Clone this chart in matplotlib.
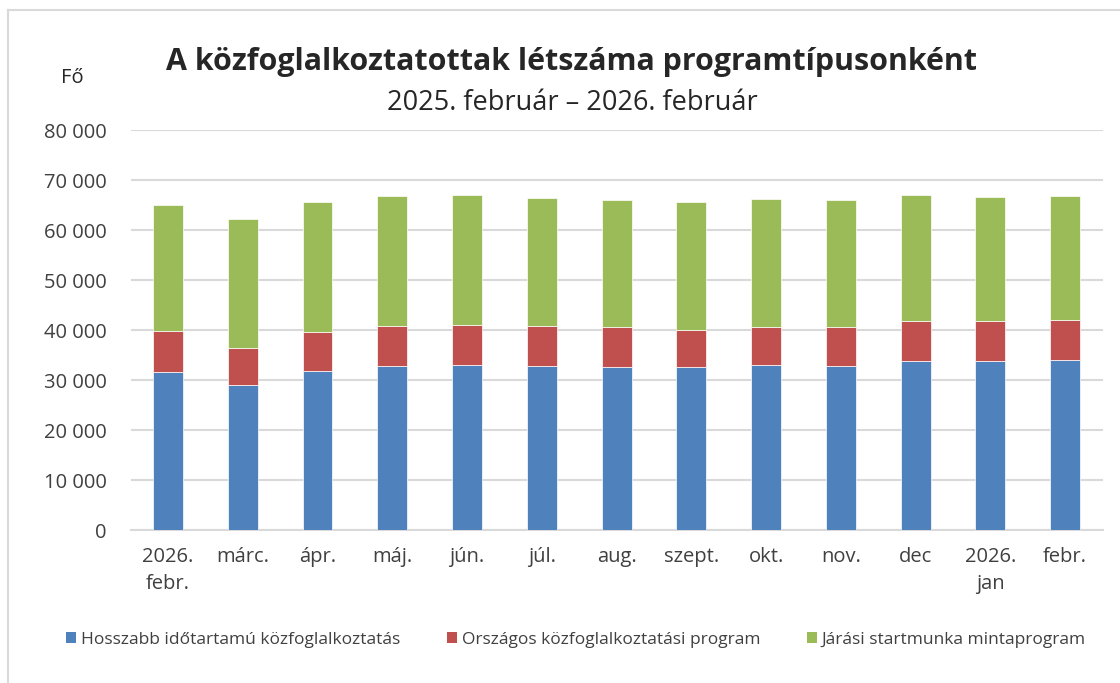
import matplotlib
matplotlib.use("Agg")
import matplotlib.pyplot as plt
from matplotlib.lines import Line2D
from matplotlib.patches import Patch
import numpy as np

categories = ["2026.\nfebr.", "márc.", "ápr.", "máj.", "jún.", "júl.", "aug.",
              "szept.", "okt.", "nov.", "dec", "2026.\njan", "febr."]
hosszabb = [31600, 29000, 31800, 32800, 33000, 32800, 32600, 32600, 33000, 32800, 33800, 33800, 34000]
orszagos = [8200, 7400, 7800, 8000, 8000, 8000, 8000, 7400, 7600, 7800, 8000, 8000, 8000]
jarasi = [25200, 25800, 26000, 26000, 26000, 25600, 25400, 25600, 25600, 25400, 25200, 24800, 24800]
series_names = ["Hosszabb időtartamú közfoglalkoztatás",
                "Országos közfoglalkoztatási program",
                "Járási startmunka mintaprogram"]
yticks = [0, 10000, 20000, 30000, 40000, 50000, 60000, 70000, 80000]
ytick_labels = ["0", "10 000", "20 000", "30 000", "40 000", "50 000", "60 000", "70 000", "80 000"]

colors = ["#4f81bd", "#c0504d", "#9bbb59"]
plt.rcParams['font.family'] = ['Open Sans', 'DejaVu Sans']

fig = plt.figure(figsize=(11.2, 6.83), dpi=100)
ax = fig.add_axes([130.6/1120, 1-530/683, (1102.6-130.6)/1120, 400/683])

x = np.arange(len(categories))
w = 0.4
b1 = np.array(hosszabb)
b2 = b1 + np.array(orszagos)
ax.bar(x, hosszabb, w, color=colors[0], edgecolor="white", linewidth=0.5, zorder=3)
ax.bar(x, orszagos, w, bottom=b1, color=colors[1], edgecolor="white", linewidth=0.5, zorder=3)
ax.bar(x, jarasi, w, bottom=b2, color=colors[2], edgecolor="white", linewidth=0.5, zorder=3)

ax.set_xlim(-0.5, len(categories) - 0.5)
ax.set_ylim(0, 80000)
ax.set_yticks(yticks)
ax.set_yticklabels(ytick_labels, fontsize=14.5, color="#404040")
ax.set_xticks(x)
ax.set_xticklabels(categories, fontsize=14.5, color="#404040", linespacing=1.5)
ax.tick_params(axis="both", length=0)
ax.tick_params(axis="y", pad=17)
ax.tick_params(axis="x", pad=12)
ax.grid(axis="y", color="#d9d9d9", linewidth=1.5, zorder=0)
for s in ["top", "right", "left"]:
    ax.spines[s].set_visible(False)
ax.spines["bottom"].set_color("#d9d9d9")
ax.spines["bottom"].set_linewidth(1.5)

fig.text(572/1120, 1-62/683, "A közfoglalkoztatottak létszáma programtípusonként",
         ha="center", va="center", fontsize=21.9, fontweight="bold", color="#262626")
fig.text(572/1120, 1-103/683, "2025. február – 2026. február",
         ha="center", va="center", fontsize=19.5, color="#262626")
fig.text(72/1120, 1-78/683, "Fő", ha="center", va="center", fontsize=14.5, color="#262626")

handles = [Patch(facecolor=c) for c in colors]
fig.legend(handles, series_names, loc="center", bbox_to_anchor=(576/1120, 1-640/683),
           ncol=3, frameon=False, fontsize=12.5, handlelength=0.6, handleheight=0.6,
           handletextpad=0.25, columnspacing=2.7, labelcolor="#404040")

fig.add_artist(Line2D([8/1120, 8/1120], [0, 1-10/683], color="#d9d9d9", linewidth=1.5))
fig.add_artist(Line2D([8/1120, 1], [1-10/683, 1-10/683], color="#d9d9d9", linewidth=1.5))

fig.savefig("out.png", dpi=100)
